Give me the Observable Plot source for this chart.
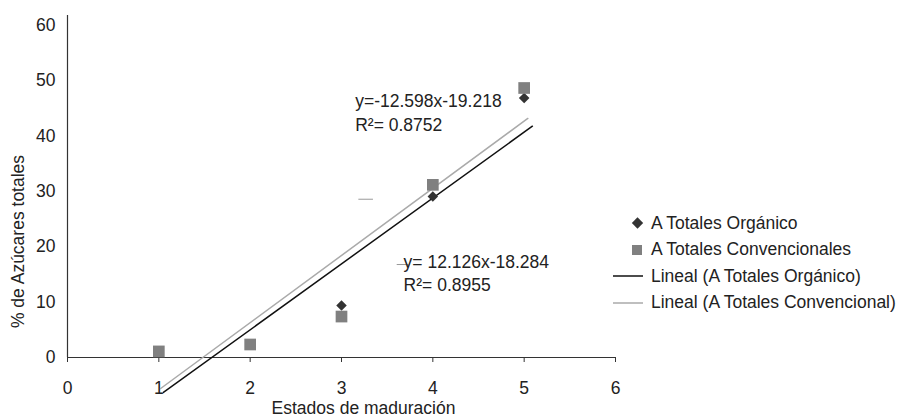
<!DOCTYPE html>
<html>
<head>
<meta charset="utf-8">
<script src="https://cdn.jsdelivr.net/npm/d3@7"></script>
<script src="https://cdn.jsdelivr.net/npm/@observablehq/plot@0.6"></script>
<style>
  body { margin: 0; background: #fff; }
  #wrap { position: relative; width: 904px; height: 419px; font-family: "Liberation Sans", Arial, sans-serif; color: #222; }
  #legend { position: absolute; left: 612px; top: 210px; font-size: 17.5px; }
  .row { height: 26.5px; display: flex; align-items: center; white-space: nowrap; }
  .row svg { width: 34px; height: 12px; margin-right: 5px; flex: none; }
</style>
</head>
<body>
<div id="wrap"><div id="chart"></div><div id="legend"></div></div>
<script>
// Estados de maduración (x)
const estados = [1, 2, 3, 4, 5];
// % de Azúcares totales
const organico = [1.0, 2.3, 9.4, 29.1, 46.9];
const convencional = [1.1, 2.35, 7.4, 31.2, 48.7];
// Trend lines (endpoints)
const linOrgX = [1.05, 5.09];
const linOrgY = [-6.3, 41.8];
const linConvX = [1.02, 5.04];
const linConvY = [-5.6, 43.2];
// stray dashes in the figure
const dashX1 = [3.19, 3.61];
const dashX2 = [3.35, 3.74];
const dashY = [28.6, 16.8];
// annotations
const annText = ["y=-12.598x-19.218", "R\u00B2= 0.8752", "y= 12.126x-18.284", "R\u00B2= 0.8955"];
const annX = [3.15, 3.15, 3.68, 3.68];
const annY = [46.3, 42.0, 17.2, 13.0];
const xTicks = [0, 1, 2, 3, 4, 5, 6];
const yTicks = [0, 10, 20, 30, 40, 50, 60];
const xLabel = "Estados de maduración";
const yLabel = "% de Azúcares totales";
const legendLabels = ["A Totales Orgánico", "A Totales Convencionales", "Lineal (A Totales Orgánico)", "Lineal (A Totales Convencional)"];

const orgData = estados.map((x, i) => ({x, y: organico[i]}));
const convData = estados.map((x, i) => ({x, y: convencional[i]}));
const lo = linOrgX.map((x, i) => ({x, y: linOrgY[i]}));
const lc = linConvX.map((x, i) => ({x, y: linConvY[i]}));
const dashes = dashY.map((y, i) => ({x1: dashX1[i], x2: dashX2[i], y}));
const ann = annText.map((t, i) => ({t, x: annX[i], y: annY[i]}));

const FS = 17.5;
const chart = Plot.plot({
  width: 904,
  height: 419,
  marginLeft: 67,
  marginRight: 289,
  marginTop: 15,
  marginBottom: 62,
  style: {fontFamily: "'Liberation Sans', Arial, sans-serif", fontSize: FS + "px", color: "#222", background: "#fff"},
  x: {domain: [0, 6], ticks: xTicks},
  y: {domain: [0, 61.8], ticks: yTicks},
  marks: [
    Plot.axisX({ticks: xTicks, tickFormat: d3.format("d"), tickSize: 5, tickPadding: 19, label: null, fontSize: FS, stroke: "#333"}),
    Plot.axisY({ticks: yTicks, tickFormat: d3.format("d"), tickSize: 0, tickPadding: 12, label: null, fontSize: FS}),
    Plot.text([xLabel], {frameAnchor: "bottom", textAnchor: "middle", lineAnchor: "middle", dx: 22, dy: 51, fontSize: FS, fill: "#222"}),
    Plot.text([yLabel], {frameAnchor: "left", textAnchor: "middle", lineAnchor: "middle", rotate: -90, dx: -49, dy: 55, fontSize: FS, fill: "#222"}),
    Plot.ruleX([0], {y1: 0, y2: 61.8, stroke: "#333", strokeWidth: 1.2}),
    Plot.ruleY([0], {x1: 0, x2: 6, stroke: "#333", strokeWidth: 1.2}),
    Plot.line(lc, {x: "x", y: "y", stroke: "#aaa", strokeWidth: 1.5}),
    Plot.line(lo, {x: "x", y: "y", stroke: "#111", strokeWidth: 1.5}),
    Plot.ruleY(dashes, {x1: "x1", x2: "x2", y: "y", stroke: "#999", strokeWidth: 1}),
    Plot.dot(orgData, {x: "x", y: "y", symbol: "square", rotate: 45, r: 4.2, fill: "#333", stroke: "none"}),
    Plot.dot(convData, {x: "x", y: "y", symbol: "square", r: 6.6, fill: "#808080", stroke: "none"}),
    Plot.text(ann, {x: "x", y: "y", text: "t", textAnchor: "start", fontSize: FS, fill: "#222"})
  ]
});
document.getElementById("chart").appendChild(chart);

const sym = [
  '<svg viewBox="0 0 34 12"><rect x="21.5" y="2" width="8" height="8" fill="#333" transform="rotate(45 25.5 6)"/></svg>',
  '<svg viewBox="0 0 34 12"><rect x="20" y="1" width="10" height="10" fill="#808080"/></svg>',
  '<svg viewBox="0 0 34 12"><line x1="1" y1="6" x2="31" y2="6" stroke="#111" stroke-width="1.5"/></svg>',
  '<svg viewBox="0 0 34 12"><line x1="1" y1="6" x2="31" y2="6" stroke="#aaa" stroke-width="1.5"/></svg>'
];
const leg = document.getElementById("legend");
legendLabels.forEach((l, i) => {
  const d = document.createElement("div");
  d.className = "row";
  d.innerHTML = sym[i] + "<span>" + l + "</span>";
  leg.appendChild(d);
});
</script>
</body>
</html>
